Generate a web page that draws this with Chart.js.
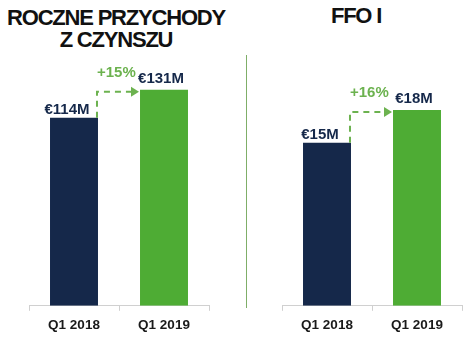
<!DOCTYPE html>
<html>
<head>
<meta charset="utf-8">
<script src="https://cdn.jsdelivr.net/npm/chart.js@4/dist/chart.umd.min.js"></script>
<style>
  html, body { margin: 0; padding: 0; background: #ffffff; }
  #wrap { position: relative; width: 472px; height: 349px; overflow: hidden; font-family: Arial, "Liberation Sans", sans-serif; }
  .title { position: absolute; font-weight: bold; font-size: 22px; letter-spacing: -1.2px; color: #111111; text-align: center; line-height: 22px; }
  #divider { position: absolute; left: 246px; top: 55px; width: 1px; height: 253px; background: #7fae68; }
  canvas { position: absolute; top: 0; }
</style>
</head>
<body>
<div id="wrap">
  <div class="title" style="left:0; width:232px; top:7px;">ROCZNE PRZYCHODY<br>Z CZYNSZU</div>
  <div class="title" style="left:246px; width:220px; top:5px;">FFO I</div>
  <div id="divider"></div>
  <canvas id="rentchart" width="236" height="349" style="left:0;"></canvas>
  <canvas id="ffochart" width="226" height="349" style="left:246px;"></canvas>
</div>
<script>
// data
const periods = ["Q1 2018", "Q1 2019"];
const rentValues = [114, 131];   // € M
const ffoValues = [15, 18];      // € M
const growthLabels = ["+15%", "+16%"];
const yMax = [149, 22.6];

const navy = "#15284a";
const green = "#4eac34";
const arrowGreen = "#6cb24f";

// value labels + dashed growth arrow
const barNotes = {
    id: "barNotes",
    afterDatasetsDraw(chart, args, opts) {
        const ctx = chart.ctx;
        const bars = chart.getDatasetMeta(0).data;
        const vals = chart.data.datasets[0].data;
        ctx.save();
        ctx.font = "bold 15px Arial, 'Liberation Sans', sans-serif";
        ctx.textAlign = "center";
        ctx.textBaseline = "middle";
        ctx.fillStyle = navy;
        bars.forEach(function(bar, i) {
            // labels sit a bit left of the bar centre in the original
            const dx = i == 0 ? -7 : -3;
            ctx.fillText("€" + vals[i] + "M", bar.x + dx, bar.y - (i == 0 ? 8 : 11));
        });

        const a = bars[0], b = bars[1];
        const x0 = a.x + a.width / 2 - 1;
        const y0 = a.y;
        const y1 = b.y + 2;
        const x1 = b.x - b.width / 2;
        ctx.strokeStyle = arrowGreen;
        ctx.lineWidth = 2;
        ctx.setLineDash([6, 5]);
        ctx.beginPath();
        ctx.moveTo(x0, y0);
        ctx.lineTo(x0, y1);
        ctx.lineTo(x1 - 7, y1);
        ctx.stroke();
        ctx.setLineDash([]);
        ctx.fillStyle = arrowGreen;
        ctx.beginPath();
        ctx.moveTo(x1 - 1, y1);
        ctx.lineTo(x1 - 9, y1 - 5);
        ctx.lineTo(x1 - 9, y1 + 5);
        ctx.closePath();
        ctx.fill();

        ctx.textAlign = "left";
        ctx.fillStyle = arrowGreen;
        ctx.fillText(opts.growth, x0, b.y - 17);
        ctx.restore();
    }
};

function makeChart(el, values, max, growth, pad) {
    return new Chart(el, {
        type: "bar",
        data: {
            labels: periods,
            datasets: [{
                data: values,
                backgroundColor: [navy, green],
                barPercentage: 0.533,
                categoryPercentage: 1
            }]
        },
        options: {
            responsive: false,
            animation: false,
            layout: { padding: pad },
            plugins: {
                legend: { display: false },
                tooltip: { enabled: false },
                barNotes: { growth: growth }
            },
            scales: {
                x: {
                    grid: { drawOnChartArea: false, drawTicks: true, tickLength: 5, color: "#d0d0d0" },
                    border: { display: true, color: "#d0d0d0" },
                    ticks: {
                        padding: 6,
                        color: "#1a1a1a",
                        font: { family: "Arial, 'Liberation Sans', sans-serif", size: 13.5, weight: "bold" }
                    }
                },
                y: { display: false, min: 0, max: max }
            }
        },
        plugins: [barNotes]
    });
}

makeChart(document.getElementById("rentchart"), rentValues, yMax[0], growthLabels[0],
    { top: 60, left: 29, right: 27, bottom: 10 });
makeChart(document.getElementById("ffochart"), ffoValues, yMax[1], growthLabels[1],
    { top: 60, left: 36, right: 10, bottom: 10 });
</script>
</body>
</html>
